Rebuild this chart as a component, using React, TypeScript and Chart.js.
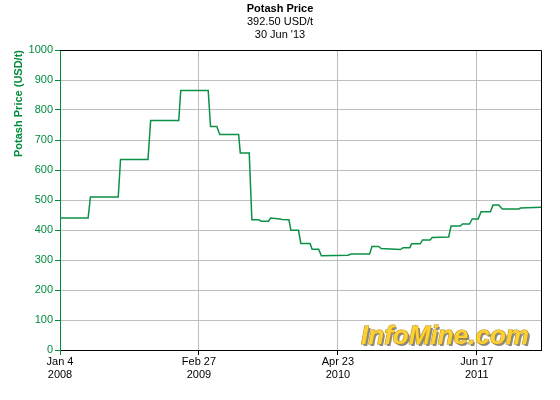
import React, { useEffect, useRef } from "react";
import { Chart, registerables } from "chart.js";

Chart.register(...registerables);

// Days since Jan 4 2008
const DAYS = [
  0, 85, 92, 176, 183, 266, 274, 359, 365, 448, 455, 474, 483, 540, 545, 572,
  580, 601, 608, 630, 637, 665, 671, 692, 698, 721, 728, 756, 762, 782, 790,
  871, 879, 936, 943, 963, 971, 1029, 1037, 1057, 1063, 1089, 1096, 1119,
  1125, 1175, 1182, 1210, 1217, 1238, 1246, 1264, 1273, 1301, 1309, 1326,
  1337, 1387, 1392, 1454,
];
const PRICES = [
  440, 440, 510, 510, 635, 635, 765, 765, 865, 865, 745, 745, 718, 718, 657,
  657, 434, 434, 429, 429, 440, 437, 435, 434, 399, 399, 355, 355, 336, 336,
  314, 316, 320, 320, 345, 345, 338, 335, 341, 341, 354, 354, 367, 367, 375,
  377, 413, 413, 420, 420, 437, 437, 461, 461, 483, 483, 470, 470, 473, 476,
];
const X_TICK_DAYS = [0, 420, 840, 1260];
const X_TICK_LABELS = [
  ["Jan 4", "2008"],
  ["Feb 27", "2009"],
  ["Apr 23", "2010"],
  ["Jun 17", "2011"],
];
const X_MAX = 1454;
const TITLE = "Potash Price";
const SUBTITLES = ["392.50 USD/t", "30 Jun '13"];
const Y_TITLE = "Potash Price (USD/t)";
const WATERMARK = "InfoMine.com";

const GREEN = "#008c3c";
const LINE_GREEN = "#0b9145";
const GRID = "#bebebe";
const FONT = "'Liberation Sans', Arial, sans-serif";

export default function App() {
  const ref = useRef<HTMLCanvasElement>(null);
  useEffect(() => {
    document.body.style.margin = "0";
    if (!ref.current) return;
    const headerPlugin = {
      id: "header",
      beforeDatasetsDraw(chart: any) {
        const ctx = chart.ctx;
        const ca = chart.chartArea;
        ctx.save();
        ctx.font = `bold italic 25px ${FONT}`;
        const w = ctx.measureText(WATERMARK).width;
        const target = 168;
        const x0 = ca.right - 12 - target;
        const y0 = ca.bottom - 6;
        ctx.translate(x0, y0);
        ctx.scale(target / w, 1);
        ctx.textBaseline = "alphabetic";
        ctx.textAlign = "left";
        ctx.fillStyle = "#8a8a8a";
        ctx.fillText(WATERMARK, 1.8, 1.8);
        ctx.lineWidth = 1;
        ctx.strokeStyle = "#b08a10";
        ctx.strokeText(WATERMARK, 0, 0);
        ctx.fillStyle = "#fdd035";
        ctx.fillText(WATERMARK, 0, 0);
        ctx.restore();
      },
      afterDraw(chart: any) {
        const ctx = chart.ctx;
        const ca = chart.chartArea;
        ctx.save();
        ctx.strokeStyle = "#000";
        ctx.lineWidth = 1;
        ctx.beginPath();
        ctx.moveTo(ca.left, Math.round(ca.top) + 0.5);
        ctx.lineTo(Math.round(ca.right) + 0.5, Math.round(ca.top) + 0.5);
        ctx.lineTo(Math.round(ca.right) + 0.5, Math.round(ca.bottom) + 0.5);
        ctx.stroke();
        ctx.fillStyle = "#000";
        ctx.textAlign = "center";
        ctx.textBaseline = "alphabetic";
        ctx.font = `bold 11px ${FONT}`;
        ctx.fillText(TITLE, 280, 12);
        ctx.font = `11px ${FONT}`;
        ctx.fillText(SUBTITLES[0], 280, 25);
        ctx.fillText(SUBTITLES[1], 280, 38);
        ctx.restore();
      },
    };

    const chart = new Chart(ref.current, {
      type: "line",
      data: {
        datasets: [
          {
            data: DAYS.map((d, i) => ({ x: d, y: PRICES[i] })),
            borderColor: LINE_GREEN,
            borderWidth: 1.5,
            pointRadius: 0,
            fill: false,
            tension: 0,
          },
        ],
      },
      options: {
        responsive: false,
        animation: false,
        layout: { padding: { top: 50, right: 19, left: 0, bottom: 0 } },
        plugins: {
          legend: { display: false },
          tooltip: { enabled: false },
          title: { display: false },
        },
        scales: {
          x: {
            type: "linear",
            min: 0,
            max: X_MAX,
            afterBuildTicks: (s: any) => {
              s.ticks = X_TICK_DAYS.map((v) => ({ value: v }));
            },
            afterFit: (s: any) => {
              s.height = 50;
            },
            ticks: {
              autoSkip: false,
              maxRotation: 0,
              color: "#000",
              padding: 1,
              font: { size: 11, family: FONT, lineHeight: 1.15 },
              callback: (v: any) => {
                const i = X_TICK_DAYS.indexOf(Number(v));
                return i >= 0 ? X_TICK_LABELS[i] : "";
              },
            },
            grid: {
              color: GRID,
              lineWidth: 1,
              tickLength: 5,
              tickColor: (c: any) => (c.index === 0 ? GREEN : "#000"),
            },
            border: { color: "#000", width: 1 },
          },
          y: {
            min: 0,
            max: 1000,
            afterFit: (s: any) => {
              s.width = 60;
            },
            ticks: {
              stepSize: 100,
              color: GREEN,
              padding: 2,
              font: { size: 11, family: FONT },
              callback: (v: any) => String(v),
            },
            grid: {
              color: GRID,
              lineWidth: 1,
              tickLength: 5,
              tickColor: GREEN,
            },
            border: { color: GREEN, width: 1 },
            title: {
              display: true,
              text: Y_TITLE,
              color: GREEN,
              align: "end",
              font: { size: 11, weight: "bold", family: FONT },
              padding: { top: 12, bottom: 0 },
            },
          },
        },
      },
      plugins: [headerPlugin],
    } as any);
    return () => chart.destroy();
  }, []);
  return <canvas ref={ref} width={560} height={400} style={{ display: "block" }} />;
}
